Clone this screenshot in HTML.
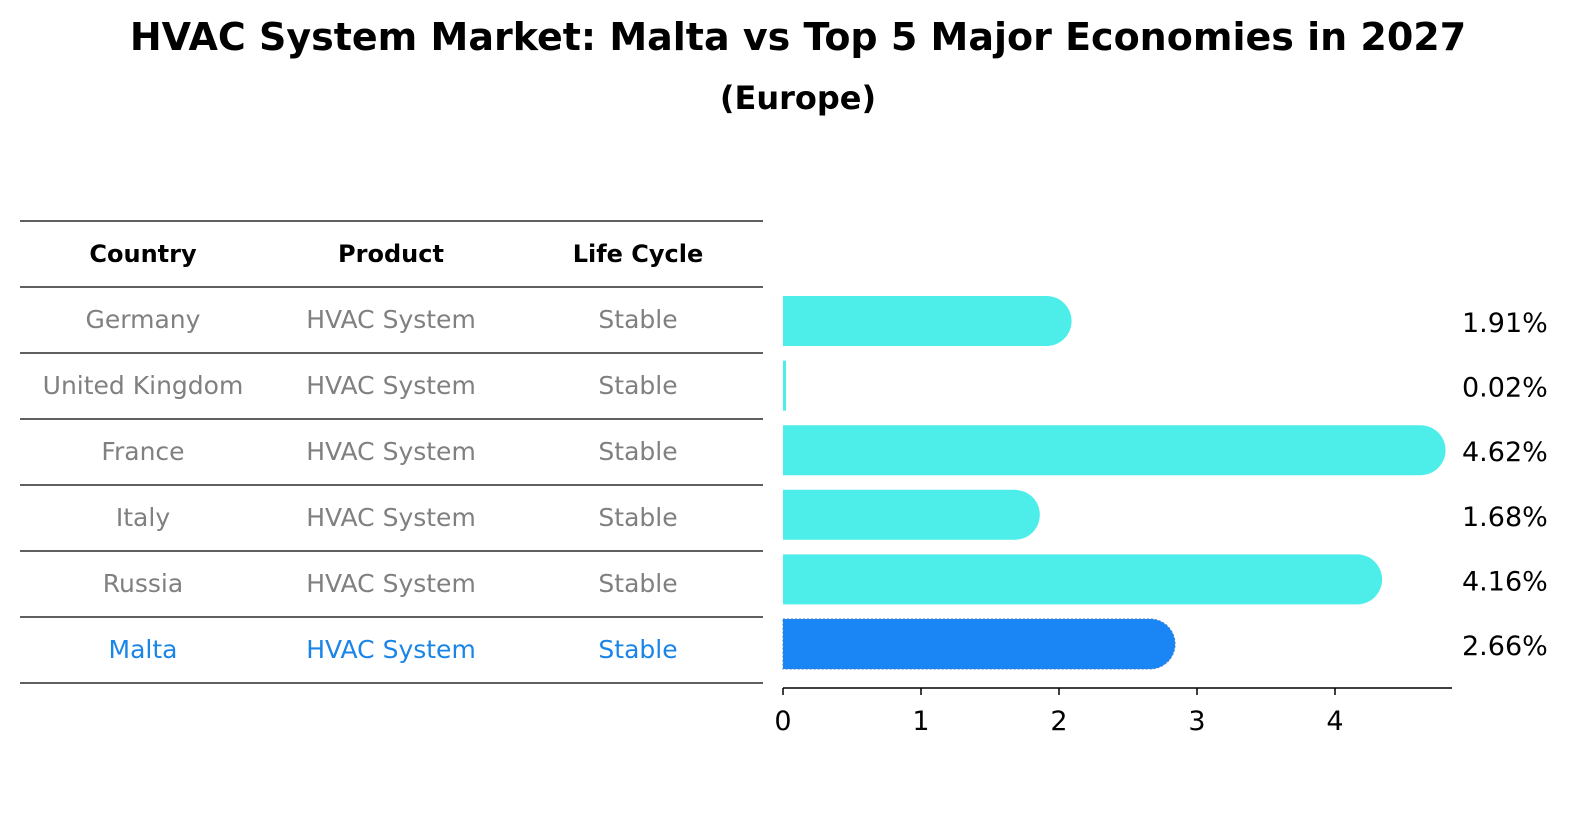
<!DOCTYPE html>
<html><head><meta charset="utf-8"><style>
body{margin:0;background:#fff;font-family:"DejaVu Sans","Liberation Sans",sans-serif}
</style></head><body>
<svg width="1586" height="823" xmlns="http://www.w3.org/2000/svg" style="font-family:'DejaVu Sans','Liberation Sans',sans-serif">
<text x="798" y="50" text-anchor="middle" font-size="38" font-weight="bold">HVAC System Market: Malta vs Top 5 Major Economies in 2027</text>
<text x="798" y="109" text-anchor="middle" font-size="32" font-weight="bold">(Europe)</text>
<g id="table"></g>
<g id="bars"></g>
</svg>
<script>
const countries=["Germany","United Kingdom","France","Italy","Russia","Malta"];
const products=["HVAC System","HVAC System","HVAC System","HVAC System","HVAC System","HVAC System"];
const lifeCycles=["Stable","Stable","Stable","Stable","Stable","Stable"];
const values=[1.91,0.02,4.62,1.68,4.16,2.66];
const valueLabels=["1.91%","0.02%","4.62%","1.68%","4.16%","2.66%"];
const ticks=[0,1,2,3,4];
const NS="http://www.w3.org/2000/svg";
function mk(t,a,p){const e=document.createElementNS(NS,t);for(const k in a)e.setAttribute(k,a[k]);p.appendChild(e);return e;}
const tbl=document.getElementById('table');
const rowTop=221,rowH=66.0,cols=[143,391,638];
const hdr=["Country","Product","Life Cycle"];
for(let i=0;i<=countries.length+1;i++){
  const l=mk('line',{x1:20,x2:763,y1:rowTop+i*rowH,y2:rowTop+i*rowH,stroke:'#000','stroke-width':1.2},tbl);
  
  
}
hdr.forEach((h,j)=>{const t=mk('text',{x:cols[j],y:rowTop+rowH/2+8,'text-anchor':'middle','font-size':'24','font-weight':'bold'},tbl);t.textContent=h;

});
countries.forEach((c,i)=>{
  const y=rowTop+(i+1)*rowH+rowH/2+8;
  const col=c==="Malta"?"#1a85e8":"#808080";
  [c,products[i],lifeCycles[i]].forEach((v,j)=>{const t=mk('text',{x:cols[j],y:y,'text-anchor':'middle','font-size':'25',fill:col},tbl);t.textContent=v;
  
  });
});
const g=document.getElementById('bars');
const x0=783,ppu=138;
const X=v=>x0+v*ppu;
const c0=321,step=64.6,bh=50;
values.forEach((v,i)=>{
  const cy=c0+i*step,w=X(v)-x0;
  const isM=countries[i]==="Malta";
  const d=`M${x0},${cy-bh/2} L${x0+w},${cy-bh/2} A${bh/2},${bh/2} 0 0 1 ${x0+w},${cy+bh/2} L${x0},${cy+bh/2} Z`;
  const p=mk('path',{d: w<5?`M${x0},${cy-bh/2}h${Math.max(w,3)}v${bh}h${-Math.max(w,3)}Z`:d,fill:isM?'#1a85f5':'#4deeea'},g);
  if(isM){p.setAttribute('stroke','#3a7fd0');p.setAttribute('stroke-dasharray','2,2');p.setAttribute('stroke-width','1');}
  
  
  const t=mk('text',{x:1462,y:cy+11,'font-size':'27'},g);t.textContent=valueLabels[i];
  
  
});
const ax=mk('line',{x1:x0,x2:1452,y1:688,y2:688,stroke:'#000','stroke-width':1.5},g);


ticks.forEach(tv=>{
  const l=mk('line',{x1:X(tv),x2:X(tv),y1:688,y2:695,stroke:'#000','stroke-width':1.5},g);
  
  
  const t=mk('text',{x:X(tv),y:730,'text-anchor':'middle','font-size':'27'},g);t.textContent=tv;
  
  
});
</script>
</body></html>
